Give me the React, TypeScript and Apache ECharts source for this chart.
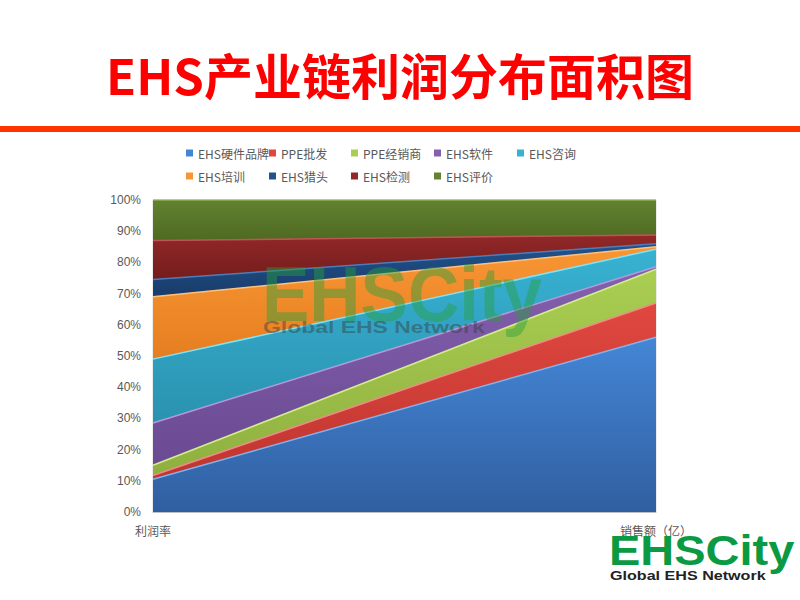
import React, { useEffect, useRef } from "react";
import * as echarts from "echarts";

const categories = ["利润率", "销售额（亿）"];
const seriesNames = [
  "EHS硬件品牌",
  "PPE批发",
  "PPE经销商",
  "EHS软件",
  "EHS咨询",
  "EHS培训",
  "EHS猎头",
  "EHS检测",
  "EHS评价",
];
const hardware = [10.5, 56];
const ppeWholesale = [1.2, 11];
const ppeDealer = [3.3, 10.8];
const software = [13.5, 0.8];
const consulting = [20.5, 5.6];
const training = [20, 0.8];
const headhunting = [5.5, 1];
const testing = [12.5, 2.8];
const evaluation = [13, 11.2];
const seriesValues = [
  hardware,
  ppeWholesale,
  ppeDealer,
  software,
  consulting,
  training,
  headhunting,
  testing,
  evaluation,
];

const topColors = ["#4486D6", "#E0483F", "#AACE52", "#8460AE", "#38B2D2", "#F99634", "#22528C", "#922828", "#628230"];
const bottomColors = ["#305FA0", "#C03530", "#8FB040", "#6A4A92", "#2A92B0", "#E57E20", "#183C6A", "#741C1C", "#4E6A22"];
const edgeColors = ["#7FB2EE", "#F08A84", "#D2EE8A", "#B498DA", "#7EE2F8", "#FFC07A", "#4E7CB8", "#C05454", "#8EAE58"];

const legendCols = [186, 269, 351, 434, 517];
const legendRows = [147, 170];

export default function App() {
  const ref = useRef<HTMLDivElement>(null);
  useEffect(() => {
    if (!ref.current) return;
    const chart = echarts.init(ref.current, null, { renderer: "svg" });
    const legends = seriesNames.map((name, i) => ({
      data: [name],
      left: legendCols[i % 5],
      top: legendRows[Math.floor(i / 5)],
      itemWidth: 7,
      itemHeight: 7,
      icon: "rect",
      padding: 0,
      textStyle: { color: "#595959", fontSize: 12, fontFamily: "Noto Sans CJK SC" },
    }));
    const series = seriesNames.map((name, i) => ({
      name,
      type: "line",
      stack: "total",
      data: seriesValues[i],
      symbol: "none",
      smooth: false,
      lineStyle: { color: edgeColors[i], width: 1.5 },
      itemStyle: { color: topColors[i] },
      areaStyle: {
        opacity: 1,
        color: {
          type: "linear",
          x: 0,
          y: 0,
          x2: 0,
          y2: 1,
          colorStops: [
            { offset: 0, color: topColors[i] },
            { offset: 1, color: bottomColors[i] },
          ],
        },
      },
      z: 2,
    }));
    chart.setOption({
      animation: false,
      backgroundColor: "#ffffff",
      title: {
        text: "EHS产业链利润分布面积图",
        left: "center",
        top: 44,
        textStyle: {
          color: "#FF0000",
          fontSize: 49,
          fontWeight: "bold",
          fontFamily: "Noto Sans CJK SC",
        },
      },
      legend: legends,
      grid: {
        left: 153,
        right: 144,
        top: 200,
        bottom: 88,
        show: true,
        borderColor: "#D9D9D9",
        borderWidth: 1,
        backgroundColor: "transparent",
      },
      xAxis: {
        type: "category",
        data: categories,
        boundaryGap: false,
        axisLine: { lineStyle: { color: "#BFBFBF" } },
        axisTick: { show: false },
        axisLabel: { color: "#595959", fontSize: 12, margin: 12, fontFamily: "Noto Sans CJK SC" },
      },
      yAxis: {
        type: "value",
        min: 0,
        max: 100,
        interval: 10,
        axisLine: { show: false },
        axisTick: { show: false },
        splitLine: { show: false },
        axisLabel: {
          formatter: "{value}%",
          color: "#595959",
          fontSize: 12,
          margin: 12,
          fontFamily: "Liberation Sans",
        },
      },
      series,
      graphic: [
        {
          type: "rect",
          shape: { x: 0, y: 126, width: 800, height: 6 },
          style: { fill: "#FF3300" },
          z: 10,
        },
        {
          type: "text",
          x: 262,
          y: 255,
          scaleY: 1.1,
          style: {
            text: "EHSCity",
            fill: "rgba(40,160,60,0.45)",
            fontSize: 71,
            fontWeight: "bold",
            fontFamily: "Liberation Sans",
          },
          z: 100,
        },
        {
          type: "text",
          x: 263,
          y: 319,
          scaleX: 1.35,
          style: {
            text: "Global EHS Network",
            fill: "rgba(50,60,60,0.45)",
            fontSize: 17,
            fontWeight: "bold",
            fontFamily: "Liberation Sans",
          },
          z: 100,
        },
        {
          type: "text",
          x: 609,
          y: 529,
          scaleY: 0.92,
          style: {
            text: "EHSCity",
            fill: "#0A9A44",
            fontSize: 47,
            fontWeight: "bold",
            fontFamily: "Liberation Sans",
          },
          z: 100,
        },
        {
          type: "text",
          x: 610,
          y: 569,
          scaleX: 1.24,
          style: {
            text: "Global EHS Network",
            fill: "#222222",
            fontSize: 13,
            fontWeight: "bold",
            fontFamily: "Liberation Sans",
          },
          z: 100,
        },
      ],
    });
    return () => chart.dispose();
  }, []);
  return (
    <div
      ref={ref}
      style={{ position: "absolute", left: 0, top: 0, width: 800, height: 600 }}
    />
  );
}
